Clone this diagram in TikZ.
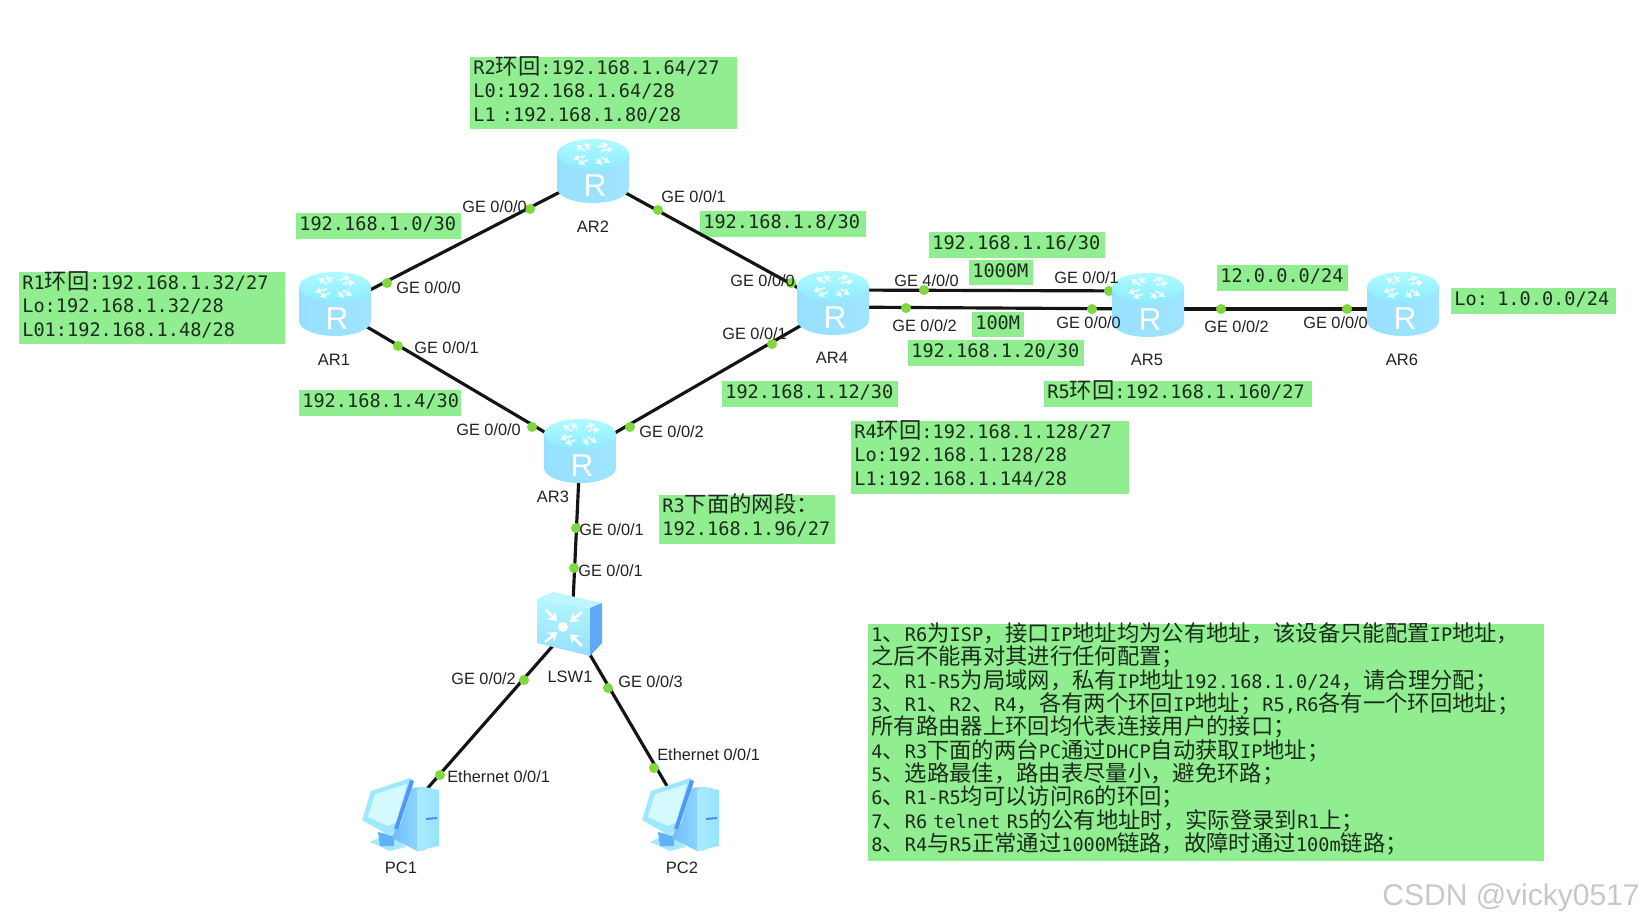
\documentclass[tikz,border=0pt]{standalone}
\usepackage{fontspec}
\setmainfont{Liberation Sans}
\newfontfamily\monof{DejaVu Sans Mono}
\newfontfamily\cjkf{Noto Sans CJK SC}
\usetikzlibrary{calc,arrows.meta}
\definecolor{boxgreen}{HTML}{90EE90}
\definecolor{dotgreen}{HTML}{80D83C}
\definecolor{linkdark}{HTML}{141414}
\definecolor{labeldark}{HTML}{222222}
\definecolor{monodark}{HTML}{1C2C1C}
\newcommand{\z}[1]{{\cjkf\fontsize{13.4}{14}\selectfont #1}}
\tikzset{
  link/.style={draw=linkdark,line width=1.9pt},
  gb/.style n args={3}{fill=boxgreen,anchor=north west,inner xsep=1.8pt,inner ysep=0pt,align=left,
    text=monodark,font=\fontsize{11.16}{14}\monof,
    text width={(#1-6)*0.6pt},text height={#3*0.6pt},text depth={(#2-#3)*0.6pt}},
  port/.style={anchor=base west,inner sep=0pt,text=labeldark,font=\fontsize{9.8}{11}\selectfont},
  devcap/.style={anchor=base,inner sep=0pt,text=labeldark,font=\fontsize{9.9}{11}\selectfont},
  portdot/.style={circle,fill=dotgreen,inner sep=0pt,minimum size=6pt},
  anchorpt/.style={inner sep=0pt,minimum size=0pt},
  router/.pic={
    \path[left color={rgb,255:red,150;green,224;blue,255},
      middle color={rgb,255:red,112;green,196;blue,255},right color={rgb,255:red,160;green,228;blue,255}]
      (-36,-17) -- (-36,17) .. controls (-36,25.3) and (-20,32) .. (0,32)
      .. controls (20,32) and (36,25.3) .. (36,17) -- (36,-17) -- cycle;
    \path[top color={rgb,255:red,176;green,250;blue,255},bottom color={rgb,255:red,140;green,236;blue,255}]
      (-36,-17) .. controls (-36,-25.3) and (-20,-32) .. (0,-32)
      .. controls (20,-32) and (36,-25.3) .. (36,-17)
      .. controls (36,-8.7) and (20,-2) .. (0,-2)
      .. controls (-20,-2) and (-36,-8.7) .. (-36,-17) -- cycle;
    \begin{scope}[white,line width=1pt,opacity=.85,-{Stealth[length=4pt,width=4.5pt]}]
      \draw (-8,-20) -- (-17,-26); \draw (-3,-22) -- (-9,-28);
      \draw (8,-20) -- (20,-22); \draw (5,-24) -- (15,-27);
      \draw (-8,-15) -- (-20,-12); \draw (-5,-11) -- (-15,-7);
      \draw (8,-14) -- (17,-8); \draw (3,-12) -- (9,-6);
    \end{scope}
    \node[inner sep=0pt,text=white,font=\fontsize{19}{20}\selectfont] (-letter) at (2,15) {R};
  },
  switchicon/.pic={
    \begin{scope}[shift={(-572,-624)}]
      \path[top color={rgb,255:red,180;green,246;blue,255},bottom color={rgb,255:red,150;green,224;blue,255}]
        (537,599) -- (590,608) -- (590,656) -- (537,643) -- cycle;
      \path[fill={rgb,255:red,190;green,246;blue,255}] (537,599) -- (553,592) -- (602,603) -- (590,608) -- cycle;
      \path[fill={rgb,255:red,96;green,168;blue,248}] (590,608) -- (602,603) -- (602,643) -- (590,656) -- cycle;
      \begin{scope}[white,line width=1.5pt,-{Stealth[length=5pt,width=7pt]}]
        \draw (546,610) -- (557,621);
        \draw (582,612) -- (570,622);
        \draw (545,642) -- (557,632);
        \draw (582,646) -- (570,634);
      \end{scope}
      \fill[white] (563,627) circle [radius=5];
    \end{scope}
  },
  pcicon/.pic={
    \begin{scope}[shift={(-404,-815)}]
      \path[fill={rgb,255:red,166;green,232;blue,255}] (370,842) -- (382,836) -- (396,838) -- (406,847) -- (390,851) -- cycle;
      \path[fill={rgb,255:red,96;green,176;blue,250}] (378,832) -- (394,836) -- (394,846) -- (380,846) -- cycle;
      \path[left color={rgb,255:red,110;green,190;blue,255},right color={rgb,255:red,150;green,220;blue,255}]
        (408,788) -- (425,787) -- (425,850) -- (417,851) -- (392,838) -- cycle;
      \path[left color={rgb,255:red,170;green,236;blue,255},right color={rgb,255:red,150;green,226;blue,255}]
        (425,787) -- (439,790) -- (439,846) -- (417,851) -- (417,790) -- cycle;
      \path[fill={rgb,255:red,70;green,140;blue,240}] (426,818) -- (437,817) -- (437,819) -- (426,820) -- cycle;
      \path[fill={rgb,255:red,160;green,232;blue,255}]
        (362,820) -- (371,791) -- (410,778) -- (414,781) -- (401,824) -- (390,836) -- cycle;
      \path[fill={rgb,255:red,84;green,150;blue,245}] (410,780) -- (414,781) -- (398,829) -- (394,829) -- cycle;
      \path[fill={rgb,255:red,212;green,250;blue,255}] (368,817) -- (375,794) -- (407,784) -- (396,822) -- (388,826) -- cycle;
    \end{scope}
  },
}
\begin{document}
\begin{tikzpicture}[x=0.6pt,y=-0.6pt]
\useasboundingbox (0,0) rectangle (1644,922);
\fill[white] (0,0) rectangle (1644,922);

% device anchors
\node[anchorpt] (AR1) at (335,308) {};
\node[anchorpt] (AR2) at (593,175) {};
\node[anchorpt] (AR3) at (580,453) {};
\node[anchorpt] (AR4) at (833,307) {};
\node[anchorpt] (AR5) at (1148,309) {};
\node[anchorpt] (AR6) at (1403,309) {};
\node[anchorpt] (LSW1) at (572,624) {};
\node[anchorpt] (PC1) at (404,815) {};
\node[anchorpt] (PC2) at (684,815) {};

% boxes
\node[gb={267}{72}{17}] (r2box) at (470,57) {R2\z{环回}:192.168.1.64/27\\L0:192.168.1.64/28\\L1 :192.168.1.80/28};
\node[gb={266}{72}{17}] (r1box) at (19,272) {R1\z{环回}:192.168.1.32/27\\Lo:192.168.1.32/28\\L01:192.168.1.48/28};
\node[gb={165}{26}{17}] (n0) at (296,213) {192.168.1.0/30};
\node[gb={166}{26}{17}] (n8) at (700,211) {192.168.1.8/30};
\node[gb={162}{26}{17}] (n4) at (299,390) {192.168.1.4/30};
\node[gb={176}{26}{17}] (n16) at (929,232) {192.168.1.16/30};
\node[gb={64}{25}{17}] (m1000) at (969,260) {1000M};
\node[gb={52}{25}{17}] (m100) at (972,312) {100M};
\node[gb={176}{26}{17}] (n20) at (908,340) {192.168.1.20/30};
\node[gb={176}{26}{17}] (n12) at (722,381) {192.168.1.12/30};
\node[gb={131}{26}{17}] (n12z) at (1217,265) {12.0.0.0/24};
\node[gb={165}{26}{17}] (lo6) at (1451,288) {Lo: 1.0.0.0/24};
\node[gb={268}{26}{17}] (r5box) at (1044,381) {R5\z{环回}:192.168.1.160/27};
\node[gb={278}{73}{17}] (r4box) at (851,421) {R4\z{环回}:192.168.1.128/27\\Lo:192.168.1.128/28\\L1:192.168.1.144/28};
\node[gb={176}{49}{17}] (r3box) at (659,495) {R3\z{下面的网段：}\\192.168.1.96/27};
\node[gb={676}{237}{17}] (notes) at (868,624) {%
1\z{、}R6\z{为}ISP\z{，接口}IP\z{地址均为公有地址，该设备只能配置}IP\z{地址，}\\
\z{之后不能再对其进行任何配置；}\\
2\z{、}R1-R5\z{为局域网，私有}IP\z{地址}192.168.1.0/24\z{，请合理分配；}\\
3\z{、}R1\z{、}R2\z{、}R4\z{，各有两个环回}IP\z{地址；}R5,R6\z{各有一个环回地址；}\\
\z{所有路由器上环回均代表连接用户的接口；}\\
4\z{、}R3\z{下面的两台}PC\z{通过}DHCP\z{自动获取}IP\z{地址；}\\
5\z{、选路最佳，路由表尽量小，避免环路；}\\
6\z{、}R1-R5\z{均可以访问}R6\z{的环回；}\\
7\z{、}R6 telnet R5\z{的公有地址时，实际登录到}R1\z{上；}\\
8\z{、}R4\z{与}R5\z{正常通过}1000M\z{链路，故障时通过}100m\z{链路；}};

% links
\draw[link] (AR1) -- (AR2);
\draw[link] (AR2) -- (AR4);
\draw[link] (AR1) -- (AR3);
\draw[link] (AR3) -- (AR4);
\draw[link] ($(AR4)+(0,-17)$) -- ($(AR5)+(0,-18)$);
\draw[link] (AR4) -- (AR5);
\draw[link] (AR5) -- (AR6);
\draw[link] (AR3) -- (LSW1);
\draw[link] (LSW1) -- (PC1);
\draw[link] (LSW1) -- (PC2);

% port dots
\foreach \n/\x/\y in {a/530/209,b/387/283,c/658/210,d/791/283,e/398/346,f/772/344,g/630/427,h/532/427,
  i/924/290,j/1109/291,k/906/308,l/1092/309,m/1221/309,n/1347/309,o/576/528,p/574/568,q/524/680,r/608/688,s/440/775,t/654/768}
  \node[portdot] (dot\n) at (\x,\y) {};

% icons
\pic (AR1i) at ($(AR1)+(0,-4)$) {router};
\pic (AR2i) at ($(AR2)+(0,-4)$) {router};
\pic (AR3i) at ($(AR3)+(0,-2)$) {router};
\pic (AR4i) at ($(AR4)+(0,-4)$) {router};
\pic (AR5i) at ($(AR5)+(0,-4)$) {router};
\pic (AR6i) at ($(AR6)+(0,-5)$) {router};
\pic (LSW1i) at (LSW1) {switchicon};
\pic (PC1i) at (PC1) {pcicon};
\pic (PC2i) at (PC2) {pcicon};

% device captions
\node[devcap] (capAR1) at (334,365) {AR1};
\node[devcap] (capAR2) at (593,232) {AR2};
\node[devcap] (capAR3) at (553,502) {AR3};
\node[devcap] (capAR4) at (832,363) {AR4};
\node[devcap] (capAR5) at (1147,365) {AR5};
\node[devcap] (capAR6) at (1402,365) {AR6};
\node[devcap] (capLSW) at (570,682) {LSW1};
\node[devcap] (capPC1) at (401,873) {PC1};
\node[devcap] (capPC2) at (682,873) {PC2};

% port labels
\node[port] (p1) at (462,212) {GE 0/0/0};
\node[port] (p2) at (661,202) {GE 0/0/1};
\node[port] (p3) at (396,293) {GE 0/0/0};
\node[port] (p4) at (414,353) {GE 0/0/1};
\node[port] (p5) at (730,286) {GE 0/0/0};
\node[port] (p6) at (722,339) {GE 0/0/1};
\node[port] (p7) at (894,286) {GE 4/0/0};
\node[port] (p8) at (1054,283) {GE 0/0/1};
\node[port] (p9) at (892,331) {GE 0/0/2};
\node[port] (p10) at (1056,328) {GE 0/0/0};
\node[port] (p11) at (1204,332) {GE 0/0/2};
\node[port] (p12) at (1303,328) {GE 0/0/0};
\node[port] (p13) at (639,437) {GE 0/0/2};
\node[port] (p14) at (456,435) {GE 0/0/0};
\node[port] (p15) at (579,535) {GE 0/0/1};
\node[port] (p16) at (578,576) {GE 0/0/1};
\node[port] (p17) at (451,684) {GE 0/0/2};
\node[port] (p18) at (618,687) {GE 0/0/3};
\node[port] (p19) at (657,760) {Ethernet 0/0/1};
\node[port] (p20) at (447,782) {Ethernet 0/0/1};

\node[anchor=base east,inner sep=0pt,text={rgb,255:red,200;green,200;blue,200},font=\fontsize{18}{20}\selectfont] (mark) at (1640,905) {CSDN @vicky0517};
\end{tikzpicture}
\end{document}
